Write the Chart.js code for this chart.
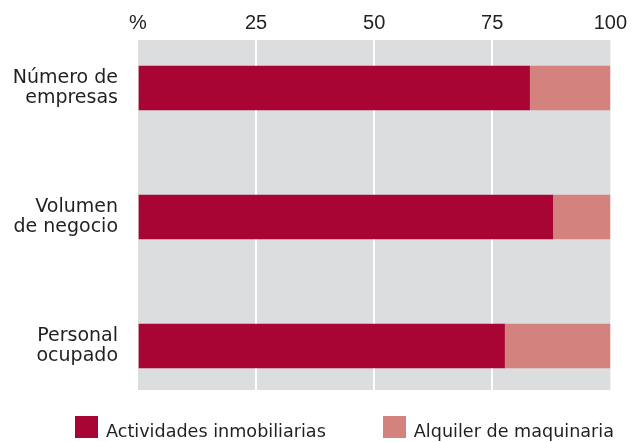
<!DOCTYPE html>
<html>
<head>
<meta charset="utf-8">
<script src="https://cdn.jsdelivr.net/npm/chart.js@4"></script>
<style>
  html, body { margin: 0; padding: 0; background: #fff; }
  #wrap { position: relative; width: 632px; height: 442px; }
  #leyenda { position: absolute; left: 75px; top: 416px; display: flex; margin: 0; padding: 0; list-style: none;
             font-family: "DejaVu Sans", sans-serif; font-size: 17.6px; color: #231f20; }
  #leyenda li { display: flex; align-items: flex-start; }
  #leyenda li + li { margin-left: 57px; }
  #leyenda .caja { width: 23px; height: 22px; margin-right: 8px; }
  #leyenda .texto { line-height: 22px; position: relative; top: 4px; white-space: nowrap; }
</style>
</head>
<body>
<div id="wrap"><canvas id="grafico"></canvas><ul id="leyenda"></ul></div>
<script>
// datos (%)
const categorias = [['Número de', 'empresas'], ['Volumen', 'de negocio'], ['Personal', 'ocupado']];
const inmobiliarias = [82.9, 87.8, 77.6];
const maquinaria = [17.1, 12.2, 22.4];
const series = ['Actividades inmobiliarias', 'Alquiler de maquinaria'];
const ticksX = [0, 25, 50, 75, 100];

const fuenteNum = '"Liberation Sans", Arial, sans-serif';
const fuenteTxt = '"DejaVu Sans", sans-serif';

// fondo gris del area del grafico
const fondo = {
  id: 'fondo',
  beforeDraw(chart) {
    const a = chart.chartArea;
    const ctx = chart.ctx;
    ctx.save();
    ctx.fillStyle = '#dcdddf';
    ctx.fillRect(a.left, a.top, a.right - a.left, a.bottom - a.top);
    ctx.restore();
  }
};

// leyenda en html a partir de los datasets
const leyendaHtml = {
  id: 'leyendaHtml',
  afterUpdate(chart) {
    const ul = document.getElementById('leyenda');
    ul.innerHTML = '';
    chart.options.plugins.legend.labels.generateLabels(chart).forEach(item => {
      const li = document.createElement('li');
      const caja = document.createElement('span');
      caja.className = 'caja';
      caja.style.background = item.fillStyle;
      const texto = document.createElement('span');
      texto.className = 'texto';
      texto.textContent = item.text;
      li.appendChild(caja);
      li.appendChild(texto);
      ul.appendChild(li);
    });
  }
};

const ctx = document.getElementById('grafico').getContext('2d');
new Chart(ctx, {
  type: 'bar',
  data: {
    datasets: [{
      label: series[0],
      data: inmobiliarias.map((v, i) => ({ x: v, y: i })),
      backgroundColor: '#a80534',
      barThickness: 44
    }, {
      label: series[1],
      data: maquinaria.map((v, i) => ({ x: v, y: i })),
      backgroundColor: '#d3827e',
      barThickness: 44
    }]
  },
  options: {
    indexAxis: 'y',
    responsive: true,
    maintainAspectRatio: false,
    animation: false,
    layout: { padding: { left: 0, right: 11, top: 6, bottom: 52 } },
    plugins: {
      tooltip: { enabled: false },
      legend: { display: false }
    },
    scales: {
      x: {
        position: 'top',
        stacked: true,
        min: 0,
        max: 100,
        afterBuildTicks: s => { s.ticks = ticksX.map(v => ({ value: v })); },
        border: { display: false },
        grid: {
          color: c => (c.tick && (c.tick.value === 0 || c.tick.value === 100)) ? 'rgba(0,0,0,0)' : '#ffffff',
          lineWidth: 2,
          drawTicks: false
        },
        ticks: {
          padding: 5,
          color: '#231f20',
          font: { family: fuenteNum, size: 20 },
          callback: v => v === 0 ? '%' : v
        }
      },
      y: {
        type: 'linear',
        reverse: true,
        stacked: true,
        offset: false,
        min: -0.372,
        max: 2.341,
        afterBuildTicks: s => { s.ticks = categorias.map((_, i) => ({ value: i })); },
        afterFit: s => { s.width = 138; },
        border: { display: false },
        grid: { display: false, offset: false },
        ticks: {
          padding: 12,
          color: '#231f20',
          font: { family: fuenteTxt, size: 19, lineHeight: 1.05 },
          callback: v => categorias[v]
        }
      }
    }
  },
  plugins: [fondo, leyendaHtml]
});
</script>
</body>
</html>
